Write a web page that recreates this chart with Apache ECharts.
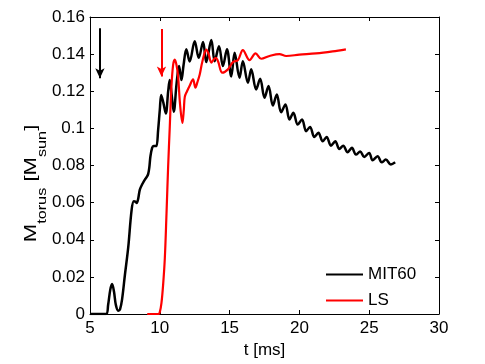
<!DOCTYPE html>
<html>
<head>
<meta charset="utf-8">
<script src="https://cdn.jsdelivr.net/npm/echarts@6/dist/echarts.min.js"></script>
<style>html,body{margin:0;padding:0;background:#fff}#c{width:485px;height:364px}</style>
</head>
<body>
<div id="c"></div>
<script>
// Data (t in ms, M_torus in M_sun)
var mitT = [5, 6.15, 6.3, 6.45, 6.58, 6.72, 6.85, 7.02, 7.15, 7.3, 7.5, 7.74, 7.98, 8.14, 8.25, 8.35, 8.45, 8.57, 8.75, 8.93, 9.08, 9.17, 9.25, 9.33, 9.45, 9.55, 9.64, 9.76, 9.88, 10.0, 10.1, 10.25, 10.43, 10.6, 10.71, 10.85, 11.0, 11.2, 11.38, 11.55, 11.7, 11.9, 12.14, 12.5, 12.79, 13.1, 13.33, 13.69, 13.93, 14.24, 14.52, 14.81, 15.12, 15.36, 15.71, 15.95, 16.31, 16.55, 16.9, 17.19, 17.5, 17.79, 18.1, 18.38, 18.69, 19.0, 19.29, 19.57, 19.88, 20.19, 20.48, 20.76, 21.07, 21.36, 21.67, 21.95, 22.26, 22.57, 22.86, 23.14, 23.45, 23.76, 24.05, 24.36, 24.64, 25.0, 25.24, 25.6, 25.9, 26.19, 26.55, 26.86];
var mitM = [0, 0, 0.005, 0.013, 0.0162, 0.012, 0.005, 0.0018, 0.0025, 0.008, 0.021, 0.036, 0.056, 0.0607, 0.0605, 0.0598, 0.062, 0.067, 0.07, 0.0724, 0.074, 0.0755, 0.079, 0.085, 0.0895, 0.0905, 0.0905, 0.0905, 0.099, 0.11, 0.118, 0.114, 0.108, 0.12, 0.126, 0.118, 0.109, 0.124, 0.1336, 0.126, 0.134, 0.1426, 0.136, 0.147, 0.138, 0.1465, 0.1357, 0.1476, 0.1362, 0.1443, 0.1336, 0.1426, 0.128, 0.1408, 0.1273, 0.1362, 0.1246, 0.1318, 0.121, 0.1267, 0.1165, 0.1228, 0.1123, 0.1183, 0.1087, 0.1129, 0.1048, 0.1084, 0.1021, 0.1048, 0.0985, 0.1008, 0.0954, 0.0976, 0.093, 0.0954, 0.0907, 0.093, 0.0889, 0.0907, 0.0871, 0.0895, 0.0859, 0.0876, 0.0846, 0.0868, 0.0828, 0.085, 0.0817, 0.0832, 0.0805, 0.0817];

var lsT = [9.1, 9.9, 10.0, 10.12, 10.24, 10.36, 10.48, 10.6, 10.71, 10.83, 10.95, 11.07, 11.2, 11.31, 11.45, 11.62, 11.72, 11.79, 11.95, 12.14, 12.38, 12.55, 12.7, 12.86, 13.05, 13.33, 13.5, 13.69, 13.85, 14.0, 14.17, 14.48, 14.88, 15.24, 15.6, 15.95, 16.43, 16.86, 17.26, 17.86, 18.57, 19.05, 20.0, 21.19, 22.38, 23.33];
var lsM = [0, 0, 0.001, 0.006, 0.016, 0.03, 0.054, 0.08, 0.1, 0.122, 0.134, 0.137, 0.134, 0.128, 0.113, 0.103, 0.11, 0.117, 0.12, 0.123, 0.1264, 0.122, 0.125, 0.129, 0.136, 0.1424, 0.14, 0.1354, 0.137, 0.138, 0.1362, 0.130, 0.1318, 0.1357, 0.1368, 0.1422, 0.1368, 0.1404, 0.1375, 0.139, 0.14, 0.139, 0.1397, 0.1404, 0.1415, 0.1426];

// Arrow annotations: [t, top, tip]
var arrowMIT = [5.71, 0.154, 0.127];
var arrowLS = [10.12, 0.1535, 0.128];

var xTicks = [5, 10, 15, 20, 25, 30];
var yTickLabels = ['0', '0.02', '0.04', '0.06', '0.08', '0.1', '0.12', '0.14', '0.16'];

// y-axis title pieces: [text, isSubscript]
var yTitleParts = [['M', false], ['torus', true], [' [M', false], ['sun', true], [']', false]];

function pairs(t, m) { return t.map(function (v, i) { return [v, m[i]]; }); }

var FONT = 'Liberation Sans, Arial, Helvetica, sans-serif';
var FS = 17;
var FS_SUB = 12.5;

var chart = echarts.init(document.getElementById('c'), null, { renderer: 'canvas' });

// build rotated y title with real subscripts
var mctx = document.createElement('canvas').getContext('2d');
function textW(s, fs) { mctx.font = fs + 'px ' + FONT; return mctx.measureText(s).width; }
var totalW = 0;
yTitleParts.forEach(function (p) { totalW += textW(p[0], p[1] ? FS_SUB : FS); });
var titleChildren = [];
var cx = -totalW / 2;
yTitleParts.forEach(function (p) {
  var fs = p[1] ? FS_SUB : FS;
  titleChildren.push({
    type: 'text', x: cx, y: p[1] ? 12 : 0,
    style: { text: p[0], fontFamily: FONT, fontSize: fs, fill: '#000', align: 'left', verticalAlign: 'middle' }
  });
  cx += textW(p[0], fs);
});

function arrowLine(a, color) {
  return {
    silent: true,
    symbol: ['none', 'arrow'],
    symbolSize: [7, 10],
    label: { show: false },
    lineStyle: { color: color, width: 2, type: 'solid' },
    emphasis: { disabled: true },
    data: [[{ coord: [a[0], a[1]] }, { coord: [a[0], a[2]] }]]
  };
}

var axisCommon = {
  min: 5, max: 30, interval: 5,
  axisLine: { show: true, onZero: false, lineStyle: { color: '#000', width: 1 } },
  axisTick: { show: true, inside: true, length: 4, lineStyle: { color: '#000' } },
  splitLine: { show: false }
};

chart.setOption({
  animation: false,
  backgroundColor: '#fff',
  grid: { left: 90, right: 46, top: 17, bottom: 50, containLabel: false },
  legend: {
    orient: 'vertical',
    left: 321, top: 261,
    itemWidth: 37, itemHeight: 2,
    itemGap: 9,
    textStyle: { fontFamily: FONT, fontSize: FS, color: '#000' },
    data: [
      { name: 'MIT60', icon: 'rect', itemStyle: { color: '#000' } },
      { name: 'LS', icon: 'rect', itemStyle: { color: '#f00' } }
    ]
  },
  xAxis: [
    Object.assign({}, axisCommon, {
      type: 'value', position: 'bottom',
      name: 't [ms]', nameLocation: 'middle', nameGap: 22,
      nameTextStyle: { fontFamily: FONT, fontSize: FS, color: '#000' },
      axisLabel: { show: true, margin: 6, fontFamily: FONT, fontSize: FS, color: '#000',
        formatter: function (v) { return String(xTicks[Math.round((v - 5) / 5)]); } }
    }),
    Object.assign({}, axisCommon, {
      type: 'value', position: 'top',
      axisLabel: { show: false }
    })
  ],
  yAxis: [
    {
      type: 'value', position: 'left', min: 0, max: 0.16, interval: 0.02,
      axisLine: { show: true, onZero: false, lineStyle: { color: '#000', width: 1 } },
      axisTick: { show: true, inside: true, length: 4, lineStyle: { color: '#000' } },
      splitLine: { show: false },
      axisLabel: { show: true, margin: 5, fontFamily: FONT, fontSize: FS, color: '#000',
        formatter: function (v) { return yTickLabels[Math.round(v / 0.02)]; } }
    },
    {
      type: 'value', position: 'right', min: 0, max: 0.16, interval: 0.02,
      axisLine: { show: true, onZero: false, lineStyle: { color: '#000', width: 1 } },
      axisTick: { show: true, inside: true, length: 4, lineStyle: { color: '#000' } },
      splitLine: { show: false },
      axisLabel: { show: false }
    }
  ],
  graphic: [
    {
      type: 'group',
      x: 31, y: 183.5,
      rotation: Math.PI / 2,
      scaleX: 1.3,
      children: titleChildren
    }
  ],
  series: [
    {
      name: 'MIT60', type: 'line', xAxisIndex: 0, yAxisIndex: 0,
      data: pairs(mitT, mitM),
      symbol: 'none', smooth: 0.35,
      lineStyle: { color: '#000', width: 2.5 },
      itemStyle: { color: '#000' },
      markLine: arrowLine(arrowMIT, '#000'),
      z: 3
    },
    {
      name: 'LS', type: 'line', xAxisIndex: 0, yAxisIndex: 0,
      data: pairs(lsT, lsM),
      symbol: 'none', smooth: 0.35,
      lineStyle: { color: '#f00', width: 2.2 },
      itemStyle: { color: '#f00' },
      markLine: arrowLine(arrowLS, '#f00'),
      z: 4
    }
  ]
});
</script>
</body>
</html>
